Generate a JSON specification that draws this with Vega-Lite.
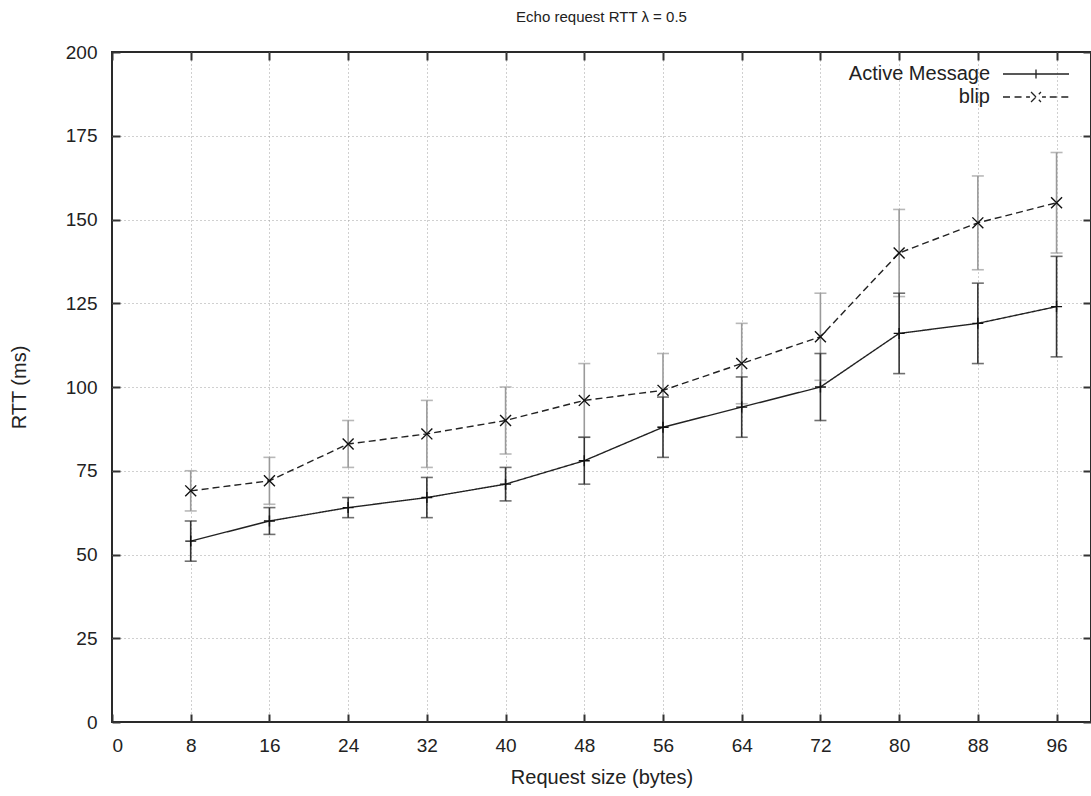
{
  "$schema": "https://vega.github.io/schema/vega-lite/v6.json",
  "width": 979,
  "height": 670,
  "autosize": {"type": "none"},
  "padding": {"left": 112, "top": 52, "right": 0, "bottom": 74},
  "background": "white",
  "title": {"text": "Echo request RTT λ = 0.5", "font": "Liberation Sans", "fontSize": 15, "fontWeight": "normal", "color": "#222", "anchor": "middle", "offset": 18},
  "config": {
    "view": {"stroke": "#2a2a2a", "strokeWidth": 2},
    "axis": {"labelFont": "Liberation Sans", "titleFont": "Liberation Sans", "labelFontSize": 19, "titleFontSize": 20, "titleFontWeight": "normal", "labelColor": "#222", "titleColor": "#222", "tickColor": "#333", "tickWidth": 2}
  },
  "data": {"values": [
    {"size": 8, "series": "blip", "rtt": 69, "lo": 63, "hi": 75},
    {"size": 16, "series": "blip", "rtt": 72, "lo": 65, "hi": 79},
    {"size": 24, "series": "blip", "rtt": 83, "lo": 76, "hi": 90},
    {"size": 32, "series": "blip", "rtt": 86, "lo": 76, "hi": 96},
    {"size": 40, "series": "blip", "rtt": 90, "lo": 80, "hi": 100},
    {"size": 48, "series": "blip", "rtt": 96, "lo": 85, "hi": 107},
    {"size": 56, "series": "blip", "rtt": 99, "lo": 88, "hi": 110},
    {"size": 64, "series": "blip", "rtt": 107, "lo": 95, "hi": 119},
    {"size": 72, "series": "blip", "rtt": 115, "lo": 102, "hi": 128},
    {"size": 80, "series": "blip", "rtt": 140, "lo": 127, "hi": 153},
    {"size": 88, "series": "blip", "rtt": 149, "lo": 135, "hi": 163},
    {"size": 96, "series": "blip", "rtt": 155, "lo": 140, "hi": 170},
    {"size": 8, "series": "Active Message", "rtt": 54, "lo": 48, "hi": 60},
    {"size": 16, "series": "Active Message", "rtt": 60, "lo": 56, "hi": 64},
    {"size": 24, "series": "Active Message", "rtt": 64, "lo": 61, "hi": 67},
    {"size": 32, "series": "Active Message", "rtt": 67, "lo": 61, "hi": 73},
    {"size": 40, "series": "Active Message", "rtt": 71, "lo": 66, "hi": 76},
    {"size": 48, "series": "Active Message", "rtt": 78, "lo": 71, "hi": 85},
    {"size": 56, "series": "Active Message", "rtt": 88, "lo": 79, "hi": 97},
    {"size": 64, "series": "Active Message", "rtt": 94, "lo": 85, "hi": 103},
    {"size": 72, "series": "Active Message", "rtt": 100, "lo": 90, "hi": 110},
    {"size": 80, "series": "Active Message", "rtt": 116, "lo": 104, "hi": 128},
    {"size": 88, "series": "Active Message", "rtt": 119, "lo": 107, "hi": 131},
    {"size": 96, "series": "Active Message", "rtt": 124, "lo": 109, "hi": 139}
  ]},
  "resolve": {"axis": {"x": "independent", "y": "independent"}},
  "layer": [
    {
      "mark": {"type": "tick", "orient": "horizontal", "size": 12, "thickness": 1.6},
      "encoding": {
        "x": {"field": "size", "type": "quantitative", "scale": {"domain": [0, 99.5], "nice": false, "zero": false},
          "axis": {"orient": "bottom", "values": [8, 16, 24, 32, 40, 48, 56, 64, 72, 80, 88, 96], "labels": false, "ticks": false, "domain": false, "title": null, "grid": true, "gridDash": [1, 3], "gridColor": "#a0a0a0", "gridWidth": 1}},
        "y": {"field": "lo", "type": "quantitative", "scale": {"domain": [0, 200], "nice": false},
          "axis": {"orient": "left", "values": [25, 50, 75, 100, 125, 150, 175], "labels": false, "ticks": false, "domain": false, "title": null, "grid": true, "gridDash": [1, 3], "gridColor": "#a0a0a0", "gridWidth": 1}},
        "color": {"condition": {"test": "datum.series === 'blip'", "value": "#9a9a9a"}, "value": "#333333"}
      }
    },
    {
      "mark": {"type": "rule", "strokeWidth": 1.6},
      "encoding": {
        "x": {"field": "size", "type": "quantitative",
          "axis": {"orient": "bottom", "values": [0, 8, 16, 24, 32, 40, 48, 56, 64, 72, 80, 88, 96], "title": "Request size (bytes)", "grid": false, "domain": false, "tickSize": -8, "labelPadding": 22, "titlePadding": 12}},
        "y": {"field": "lo", "type": "quantitative",
          "axis": {"orient": "left", "values": [0, 25, 50, 75, 100, 125, 150, 175, 200], "title": "RTT (ms)", "grid": false, "domain": false, "tickSize": -8, "labelPadding": 23, "titlePadding": 36}},
        "y2": {"field": "hi"},
        "color": {"condition": {"test": "datum.series === 'blip'", "value": "#9a9a9a"}, "value": "#333333"}
      }
    },
    {
      "mark": {"type": "tick", "orient": "horizontal", "size": 12, "thickness": 1.6},
      "encoding": {
        "x": {"field": "size", "type": "quantitative", "axis": null},
        "y": {"field": "hi", "type": "quantitative", "axis": null},
        "color": {"condition": {"test": "datum.series === 'blip'", "value": "#9a9a9a"}, "value": "#333333"}
      }
    },
    {
      "mark": {"type": "line", "color": "#222", "strokeWidth": 1.4},
      "encoding": {
        "x": {"field": "size", "type": "quantitative", "axis": null},
        "y": {"field": "rtt", "type": "quantitative", "axis": null},
        "strokeDash": {"field": "series", "type": "nominal",
          "scale": {"domain": ["Active Message", "blip"], "range": [[1, 0], [7, 4]]},
          "legend": {"title": null, "orient": "none", "legendX": 912, "legendY": 10, "labelFont": "Liberation Sans", "labelFontSize": 20, "labelColor": "#222", "symbolSize": 484, "symbolStrokeWidth": 1.3, "symbolStrokeColor": "#222", "rowPadding": 1, "padding": 0,
            "encode": {
              "symbols": {"update": {"shape": {"signal": "datum.value === 'blip' ? 'M-3,0H-2.3M-1.95,0H-1.25M-0.9,0H-0.55M-0.45,-0.45L0.45,0.45M-0.45,0.45L0.45,-0.45M0.55,0H0.9M1.25,0H1.95M2.3,0H3' : 'M-3,0H3M0,-0.4V0.4'"}, "strokeDash": {"value": [1, 0]}, "fill": {"value": "transparent"}, "stroke": {"value": "#222"}}},
              "labels": {"update": {"align": {"value": "right"}, "x": {"value": -34}}}
            }}
        },
        "detail": {"field": "series"}
      }
    },
    {
      "mark": {"type": "point", "filled": false, "strokeWidth": 1.4, "color": "#111", "size": 120, "opacity": 1},
      "encoding": {
        "x": {"field": "size", "type": "quantitative",
          "axis": {"orient": "top", "values": [0, 8, 16, 24, 32, 40, 48, 56, 64, 72, 80, 88, 96], "labels": false, "title": null, "grid": false, "domain": false, "tickSize": -8}},
        "y": {"field": "rtt", "type": "quantitative",
          "axis": {"orient": "right", "values": [0, 25, 50, 75, 100, 125, 150, 175, 200], "labels": false, "title": null, "grid": false, "domain": false, "tickSize": -8}},
        "shape": {"condition": {"test": "datum.series === 'blip'", "value": "M-1,-1L1,1M-1,1L1,-1"}, "value": "M-1,0H1M0,-1V1"}
      }
    }
  ]
}
